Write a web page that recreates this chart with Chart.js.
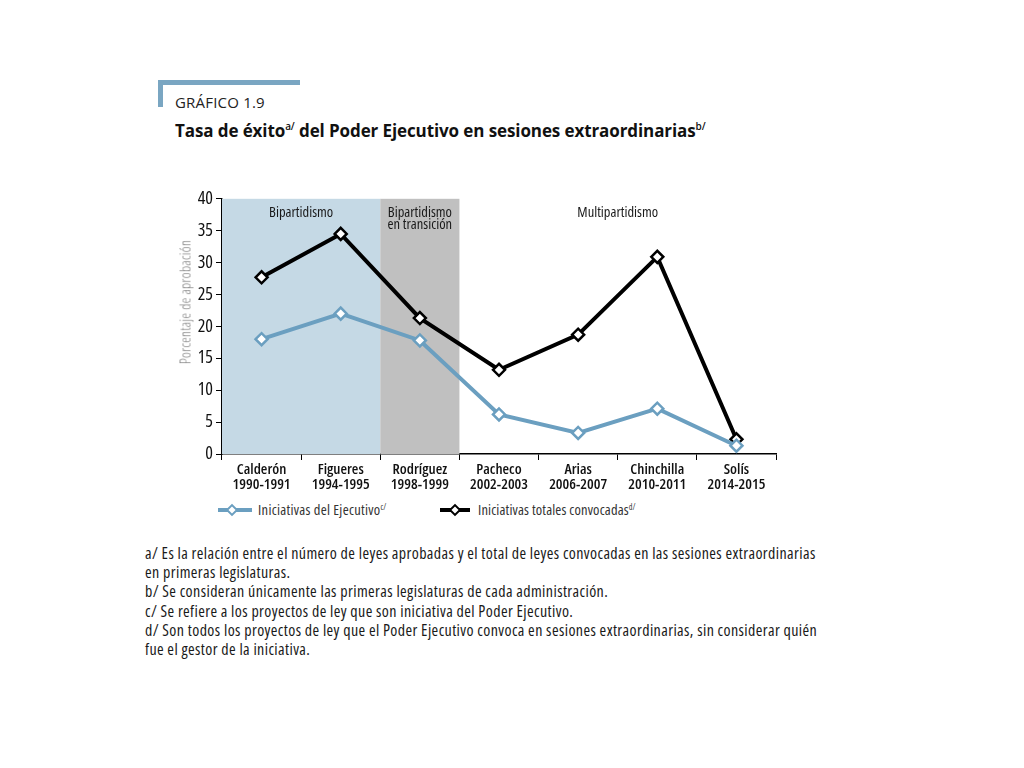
<!DOCTYPE html>
<html>
<head>
<meta charset="utf-8">
<script src="https://cdn.jsdelivr.net/npm/chart.js@4.4.1/dist/chart.umd.min.js"></script>
<style>
  html, body { margin:0; padding:0; background:#fff; width:1024px; height:768px; overflow:hidden; }
  body { position:relative; font-family:"Open Sans",sans-serif; font-stretch:condensed; color:#1a1a1a; }
  .bar-h { position:absolute; left:158px; top:80px; width:142px; height:5px; background:#7aa6c2; }
  .bar-v { position:absolute; left:158px; top:80px; width:5px; height:27px; background:#7aa6c2; }
  .kicker { position:absolute; left:175px; top:92px; font-family:"Open Sans",sans-serif; font-stretch:normal; font-size:15px; letter-spacing:0.2px; color:#222; }
  .title { position:absolute; left:175px; top:119px; font-family:"Open Sans",sans-serif; font-stretch:normal; font-weight:700; font-size:17px; color:#111; letter-spacing:-0.1px; }
  .title sup { font-size:10px; font-weight:600; vertical-align:7px; line-height:0; }
  #wrap { position:absolute; left:160px; top:185px; width:630px; height:310px; }
  .ytitle { position:absolute; left:185px; top:302px; transform:translate(-50%,-50%) rotate(-90deg); white-space:nowrap;
            font-size:14px; font-weight:300; letter-spacing:0.3px; font-stretch:condensed; color:#777; }
  .legend { position:absolute; top:500px; font-size:14.5px; letter-spacing:0.3px; color:#333; display:flex; align-items:center; }
  .legend sup { font-size:8px; vertical-align:5px; line-height:0; letter-spacing:0; }
  .notes { position:absolute; left:145px; top:544px; font-size:16px; font-weight:400; line-height:19.2px; color:#1a1a1a; white-space:nowrap; letter-spacing:0.4px; }
</style>
</head>
<body>
<div class="bar-h"></div><div class="bar-v"></div>
<div class="kicker">GRÁFICO 1.9</div>
<div class="title">Tasa de éxito<sup>a/</sup> del Poder Ejecutivo en sesiones extraordinarias<sup>b/</sup></div>
<div id="wrap"><canvas id="c"></canvas></div>
<div class="ytitle">Porcentaje de aprobación</div>
<div class="legend" style="left:218px;">
  <svg width="34" height="14"><line x1="0" y1="7" x2="34" y2="7" stroke="#6b9fc0" stroke-width="4"/><rect x="10.5" y="3.5" width="7" height="7" transform="rotate(45 14 7)" fill="#fff" stroke="#6b9fc0" stroke-width="2"/></svg>
  <span style="margin-left:6px">Iniciativas del Ejecutivo<sup>c/</sup></span>
</div>
<div class="legend" style="left:440px;">
  <svg width="30" height="14"><line x1="0" y1="7" x2="30" y2="7" stroke="#000" stroke-width="4"/><rect x="11.5" y="3.5" width="7" height="7" transform="rotate(45 15 7)" fill="#fff" stroke="#000" stroke-width="2"/></svg>
  <span style="margin-left:8px; letter-spacing:0.15px">Iniciativas totales convocadas<sup>d/</sup></span>
</div>
<div class="notes">
a/ Es la relación entre el número de leyes aprobadas y el total de leyes convocadas en las sesiones extraordinarias<br>
en primeras legislaturas.<br>
b/ Se consideran únicamente las primeras legislaturas de cada administración.<br>
c/ Se refiere a los proyectos de ley que son iniciativa del Poder Ejecutivo.<br>
d/ Son todos los proyectos de ley que el Poder Ejecutivo convoca en sesiones extraordinarias, sin considerar quién<br>
fue el gestor de la iniciativa.
</div>
<script>
const categories = [
  ['Calderón','1990-1991'],
  ['Figueres','1994-1995'],
  ['Rodríguez','1998-1999'],
  ['Pacheco','2002-2003'],
  ['Arias','2006-2007'],
  ['Chinchilla','2010-2011'],
  ['Solís','2014-2015']
];
const ejecutivo = [18.0, 22.0, 17.8, 6.2, 3.3, 7.1, 1.3];
const totales = [27.7, 34.5, 21.3, 13.2, 18.7, 30.9, 2.3];
const yTicks = [0, 5, 10, 15, 20, 25, 30, 35, 40];
const periods = [
  { from: 0, to: 1, label: ['Bipartidismo'], color: '#c5d9e5' },
  { from: 2, to: 2, label: ['Bipartidismo','en transición'], color: '#c0c0c0' },
  { from: 3, to: 6, label: ['Multipartidismo'], color: null }
];

const FAM = '"Open Sans", sans-serif';

const bands = {
  id: 'bands',
  beforeDatasetsDraw(chart) {
    const { ctx, chartArea: a, scales: { x } } = chart;
    const half = (x.getPixelForValue(1) - x.getPixelForValue(0)) / 2;
    ctx.save();
    periods.forEach(p => {
      const l = x.getPixelForValue(p.from) - half;
      const r = x.getPixelForValue(p.to) + half;
      if (p.color) { ctx.fillStyle = p.color; ctx.fillRect(l, a.top, r - l, a.bottom - a.top); }
      ctx.fillStyle = '#1a1a1a';
      ctx.font = '500 condensed 14.5px ' + FAM;
      ctx.textAlign = 'center'; ctx.textBaseline = 'top';
      p.label.forEach((t, i) => ctx.fillText(t, (l + r) / 2, a.top + 7 + i * 12));
    });
    ctx.restore();
  }
};

new Chart(document.getElementById('c'), {
  type: 'line',
  data: {
    labels: categories,
    datasets: [
      { label: 'Iniciativas del Ejecutivo', data: ejecutivo, borderColor: '#6b9fc0', borderWidth: 4,
        pointStyle: 'rectRot', pointRadius: 6, pointBorderWidth: 2.5, pointBackgroundColor: '#fff', pointBorderColor: '#6b9fc0', tension: 0 },
      { label: 'Iniciativas totales convocadas', data: totales, borderColor: '#000', borderWidth: 4,
        pointStyle: 'rectRot', pointRadius: 6, pointBorderWidth: 2.5, pointBackgroundColor: '#fff', pointBorderColor: '#000', tension: 0 }
    ]
  },
  options: {
    responsive: true, maintainAspectRatio: false, animation: false,
    layout: { padding: { top: 13, right: 14, left: 0, bottom: 0 } },
    plugins: { legend: { display: false }, tooltip: { enabled: false } },
    scales: {
      x: {
        offset: true,
        grid: { offset: true, drawOnChartArea: false, drawTicks: true, tickLength: 6, color: '#000' },
        border: { color: '#000', width: 1.5 },
        ticks: { color: '#111', padding: 2, maxRotation: 0, autoSkip: false,
          font: { family: FAM, size: 15, weight: '600 condensed', lineHeight: 1.0 } },
        afterFit(s) { s.height = 41; }
      },
      y: {
        min: 0, max: 40,
        afterBuildTicks(s) { s.ticks = yTicks.map(v => ({ value: v })); },
        grid: { drawOnChartArea: false, drawTicks: true, tickLength: 6, color: '#000' },
        border: { color: '#000', width: 1.5 },
        ticks: { color: '#111', padding: 3,
          font: { family: FAM, size: 18, weight: '400 condensed' } },
        afterFit(s) { s.width = 62; }
      }
    }
  },
  plugins: [bands]
});
</script>
</body>
</html>
